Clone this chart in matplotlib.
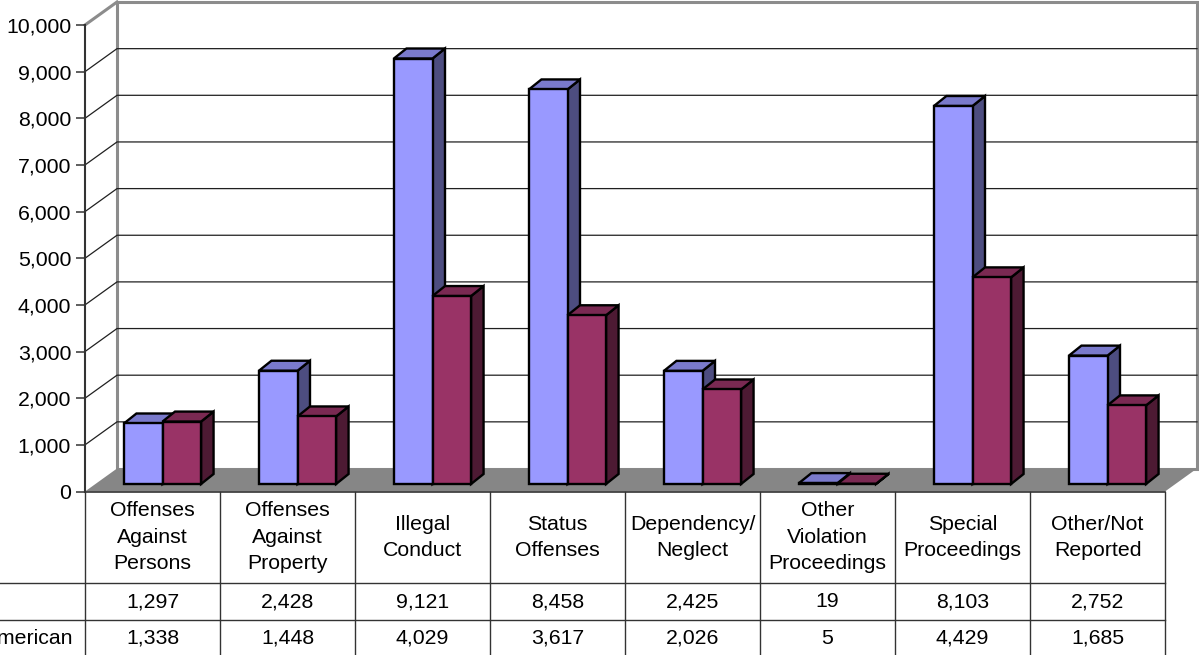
import matplotlib
matplotlib.use("Agg")
import matplotlib.pyplot as plt
from matplotlib.patches import Polygon, Rectangle
from matplotlib.ticker import StrMethodFormatter

plt.rcParams["font.family"] = ["Liberation Sans", "DejaVu Sans"]

# Case counts by referral reason
categories = ["Offenses\nAgainst\nPersons", "Offenses\nAgainst\nProperty", "Illegal\nConduct",
              "Status\nOffenses", "Dependency/\nNeglect", "Other\nViolation\nProceedings",
              "Special\nProceedings", "Other/Not\nReported"]
series_names = ["White", "African American"]
white = [1297, 2428, 9121, 8458, 2425, 19, 8103, 2752]
african_american = [1338, 1448, 4029, 3617, 2026, 5, 4429, 1685]
y_ticks = list(range(0, 10001, 1000))

front_colors = ["#9999FF", "#993366"]
top_colors = ["#7A7ACC", "#7A2952"]
side_colors = ["#4D4D80", "#4D1A33"]
floor_color = "#868686"
wall_edge = "#8C8C8C"
line_color = "#333333"
fs = 15.3

W, H, DPI = 1199, 655, 100
fig = plt.figure(figsize=(W / DPI, H / DPI), dpi=DPI)

n = len(categories)
ymax = y_ticks[-1]
# front plane of the plot, in figure pixels
x_left, x_right = 85, 1165
y_zero, y_top = 491.5, 25
cat_px = (x_right - x_left) / n
val_px = (y_zero - y_top) / ymax


def dx(px):
    return px / cat_px


def dy(px):
    return px / val_px


ax = fig.add_axes([x_left / W, (H - y_zero) / H, (x_right - x_left) / W, (y_zero - y_top) / H])
ax.set_xlim(0, n)
ax.set_ylim(0, ymax)
ax.patch.set_visible(False)

# walls and floor (oblique projection)
wdx, wdy = dx(32), dy(23)
ax.add_patch(Polygon([(0, 0), (wdx, wdy), (wdx, ymax + wdy), (0, ymax)],
                     fc="white", ec="none", clip_on=False, zorder=0.5))
ax.add_patch(Rectangle((wdx, wdy), n, ymax, fc="white", ec=wall_edge, lw=2.2,
                       clip_on=False, zorder=0.6))
ax.add_patch(Polygon([(0, 0), (n, 0), (n + wdx, wdy), (wdx, wdy)],
                     fc=floor_color, ec="none", clip_on=False, zorder=0.7))
for v in y_ticks[1:-1]:
    ax.plot([0, wdx, n + wdx], [v, v + wdy, v + wdy], color="#202020", lw=0.9,
            clip_on=False, zorder=0.8)
ax.plot([0, wdx], [ymax, ymax + wdy], color=wall_edge, lw=2.2, clip_on=False, zorder=0.8)

# 3D bars
bar_w = 1 / 3.5
gap = 0.75 / 3.5
fx, fy = dx(10), dy(7.5)
bdx, bdy = dx(12.5), dy(10)
z = 3
for k, vals in enumerate([white, african_american]):
    for i, v in enumerate(vals):
        x0 = i + gap + k * bar_w + fx
        x1 = x0 + bar_w
        y0, y1 = fy, fy + v
        side = [(x1, y0), (x1 + bdx, y0 + bdy), (x1 + bdx, y1 + bdy), (x1, y1)]
        top = [(x0, y1), (x1, y1), (x1 + bdx, y1 + bdy), (x0 + bdx, y1 + bdy)]
        front = [(x0, y0), (x1, y0), (x1, y1), (x0, y1)]
        for pts, col in ((side, side_colors[k]), (top, top_colors[k]), (front, front_colors[k])):
            ax.add_patch(Polygon(pts, fc=col, ec="black", lw=1.7, joinstyle="miter",
                                 clip_on=False, zorder=z))
            z += 0.01

for s in ("top", "right", "bottom"):
    ax.spines[s].set_visible(False)
ax.spines["left"].set_color(line_color)
ax.spines["left"].set_linewidth(1.5)
ax.set_xticks([])
ax.set_yticks(y_ticks)
ax.yaxis.set_major_formatter(StrMethodFormatter("{x:,.0f}"))
ax.tick_params(axis="y", direction="out", length=6.5, width=1.1, color=line_color,
               labelsize=fs, pad=3.5)

# data table under the plot
tax = fig.add_axes([x_left / W, 0, (x_right - x_left) / W, (H - y_zero) / H])
tax.set_xlim(0, n)
tax.set_ylim(H - y_zero, 0)
tax.axis("off")
r1, r2, r3 = 583.3 - y_zero, 620 - y_zero, 656.7 - y_zero
tax.plot([0, n], [0, 0], color=line_color, lw=1.2, clip_on=False)
for r in (r1, r2, r3):
    tax.plot([-1, n], [r, r], color=line_color, lw=1, clip_on=False)
for i in range(n + 1):
    tax.plot([i, i], [0, r3], color=line_color, lw=1, clip_on=False)

for i, c in enumerate(categories):
    tax.text(i + 0.5, r1 / 2, c, ha="center", va="center", fontsize=fs,
             linespacing=1.5, clip_on=False)
for row_y, vals in (((r1 + r2) / 2, white), ((r2 + r3) / 2, african_american)):
    for i, v in enumerate(vals):
        tax.text(i + 0.5, row_y, f"{v:,}", ha="center", va="center", fontsize=fs)

# row headers, left aligned to a common edge
lab2 = tax.text(dx(72 - x_left), (r2 + r3) / 2, series_names[1], ha="right", va="center",
                fontsize=fs, clip_on=False)
renderer = fig.canvas.get_renderer()
left_edge = tax.transData.inverted().transform(lab2.get_window_extent(renderer))[0][0]
tax.text(left_edge, (r1 + r2) / 2, series_names[0], ha="left", va="center",
         fontsize=fs, clip_on=False)

fig.savefig("out.png", dpi=DPI)
